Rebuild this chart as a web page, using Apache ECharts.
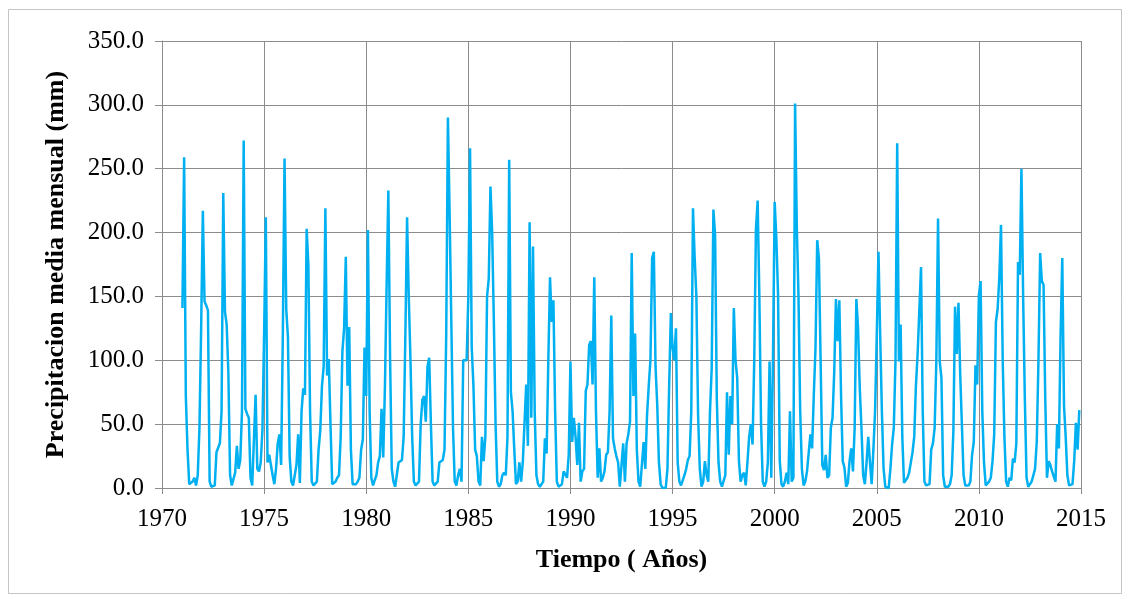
<!DOCTYPE html>
<html><head><meta charset="utf-8">
<script src="https://cdn.jsdelivr.net/npm/echarts@6/dist/echarts.min.js"></script>
<style>html,body{margin:0;padding:0;background:#fff}#c{width:1130px;height:599px}</style>
</head><body><div id="c"></div>
<script>
// Monthly mean precipitation (mm), Jan..Dec of each year
const p1971 = [141, 259, 72, 30, 3, 2, 5, 8, 2, 10, 47, 125];
const p1972 = [217, 146, 143, 139, 5, 1, 0, 2, 28, 28, 35, 60];
const p1973 = [231, 138, 128, 90, 10, 2, 3, 12, 33, 15, 22, 60];
const p1974 = [272, 62, 58, 55, 8, 2, 1, 73, 15, 13, 20, 45];
const p1975 = [120, 212, 20, 26, 18, 10, 3, 15, 35, 42, 18, 120];
const p1976 = [258, 140, 118, 25, 5, 2, 1, 18, 42, 4, 60, 78];
const p1977 = [73, 203, 175, 60, 5, 2, 2, 5, 30, 45, 80, 95];
const p1978 = [219, 88, 101, 50, 3, 2, 5, 8, 10, 40, 107, 125];
const p1979 = [181, 80, 126, 30, 3, 2, 3, 5, 8, 30, 38, 110];
const p1980 = [72, 202, 60, 8, 2, 1, 10, 20, 25, 62, 24, 80];
const p1981 = [160, 233, 104, 15, 5, 1, 0, 20, 20, 22, 40, 120];
const p1982 = [212, 150, 100, 40, 5, 2, 1, 5, 50, 69, 72, 52];
const p1983 = [95, 102, 50, 5, 2, 2, 5, 20, 20, 22, 30, 120];
const p1984 = [290, 215, 130, 47, 5, 2, 10, 15, 5, 100, 100, 100];
const p1985 = [150, 266, 110, 80, 30, 25, 5, 2, 40, 21, 40, 150];
const p1986 = [164, 236, 200, 130, 50, 5, 1, 3, 10, 12, 10, 40];
const p1987 = [257, 75, 60, 30, 3, 5, 20, 5, 20, 20, 81, 33];
const p1988 = [208, 55, 189, 60, 10, 3, 1, 2, 5, 39, 27, 100];
const p1989 = [165, 130, 147, 60, 5, 1, 1, 3, 13, 14, 8, 26];
const p1990 = [99, 36, 55, 40, 18, 51, 5, 13, 15, 76, 81, 112];
const p1991 = [115, 81, 165, 60, 8, 31, 5, 8, 13, 26, 28, 60];
const p1992 = [135, 39, 31, 25, 20, 1, 2, 35, 5, 35, 42, 52];
const p1993 = [184, 72, 121, 30, 5, 1, 2, 36, 15, 57, 80, 100];
const p1994 = [180, 185, 95, 65, 20, 3, 0, 0, 0, 15, 80, 137];
const p1995 = [110, 100, 125, 20, 5, 2, 3, 10, 15, 22, 25, 60];
const p1996 = [219, 180, 150, 57, 15, 1, 5, 21, 10, 5, 60, 94];
const p1997 = [218, 198, 70, 20, 5, 1, 0, 10, 75, 26, 72, 50];
const p1998 = [141, 100, 86, 21, 5, 10, 12, 2, 20, 40, 50, 34];
const p1999 = [100, 203, 225, 150, 50, 5, 1, 5, 20, 99, 8, 100];
const p2000 = [224, 195, 151, 21, 3, 1, 5, 12, 3, 60, 5, 8];
const p2001 = [301, 205, 150, 60, 15, 2, 5, 13, 14, 42, 31, 73];
const p2002 = [110, 194, 180, 100, 18, 14, 26, 8, 10, 47, 55, 91];
const p2003 = [148, 115, 147, 73, 21, 16, 1, 4, 21, 31, 13, 47];
const p2004 = [148, 125, 78, 47, 10, 3, 20, 40, 20, 3, 30, 60];
const p2005 = [120, 185, 120, 60, 15, 1, 0, 0, 15, 34, 47, 100];
const p2006 = [270, 99, 128, 40, 4, 3, 8, 12, 20, 28, 40, 80];
const p2007 = [105, 105, 173, 60, 5, 2, 1, 3, 30, 35, 47, 100];
const p2008 = [211, 99, 86, 10, 1, 0, 1, 3, 10, 44, 142, 105];
const p2009 = [145, 90, 50, 10, 2, 1, 2, 5, 26, 36, 96, 81];
const p2010 = [151, 162, 60, 20, 2, 1, 5, 8, 21, 42, 130, 140];
const p2011 = [165, 206, 100, 40, 5, 1, 8, 6, 23, 20, 35, 177];
const p2012 = [167, 250, 150, 70, 8, 1, 1, 5, 10, 15, 36, 100];
const p2013 = [184, 162, 159, 70, 8, 21, 18, 13, 12, 5, 50, 31];
const p2014 = [120, 180, 65, 40, 10, 2, 1, 3, 21, 51, 30, 61];

const startYear = 1971;
const yearly = [p1971,p1972,p1973,p1974,p1975,p1976,p1977,p1978,p1979,p1980,
  p1981,p1982,p1983,p1984,p1985,p1986,p1987,p1988,p1989,p1990,
  p1991,p1992,p1993,p1994,p1995,p1996,p1997,p1998,p1999,p2000,
  p2001,p2002,p2003,p2004,p2005,p2006,p2007,p2008,p2009,p2010,
  p2011,p2012,p2013,p2014];

const xTickLabels = [1970, 1975, 1980, 1985, 1990, 1995, 2000, 2005, 2010, 2015];
const yTickLabels = [0, 50, 100, 150, 200, 250, 300, 350];
const xTitle = 'Tiempo ( Años)';
const yTitle = 'Precipitacion media mensual (mm)';

const series = [];
yearly.forEach((arr, yi) => arr.forEach((v, mi) => series.push([startYear + yi + mi / 12, v])));

const FONT = 'Liberation Serif';
const GRID = '#8c8c8c';
const chart = echarts.init(document.getElementById('c'), null, {renderer: 'canvas'});
chart.setOption({
  animation: false,
  backgroundColor: '#ffffff',
  graphic: [{type: 'rect', shape: {x: 8.5, y: 9.5, width: 1113, height: 584},
    style: {fill: 'none', stroke: '#c4c4c4', lineWidth: 1}, silent: true}],
  grid: {left: 162, right: 49, top: 41, bottom: 111, containLabel: false},
  xAxis: {
    type: 'value', min: xTickLabels[0], max: xTickLabels[xTickLabels.length - 1], interval: 5,
    axisLine: {show: true, lineStyle: {color: GRID, width: 1}},
    axisTick: {show: true, length: 6, lineStyle: {color: GRID}},
    splitLine: {show: true, lineStyle: {color: GRID, width: 1}},
    axisLabel: {fontFamily: FONT, fontSize: 25, color: '#000', margin: 19, formatter: v => String(v)},
    name: xTitle, nameLocation: 'middle', nameGap: 59,
    nameTextStyle: {fontFamily: FONT, fontWeight: 'bold', fontSize: 26, color: '#000'}
  },
  yAxis: {
    type: 'value', min: yTickLabels[0], max: yTickLabels[yTickLabels.length - 1], interval: 50,
    axisLine: {show: true, lineStyle: {color: GRID, width: 1}},
    axisTick: {show: true, length: 7, lineStyle: {color: GRID}},
    splitLine: {show: true, lineStyle: {color: GRID, width: 1}},
    axisLabel: {fontFamily: FONT, fontSize: 25, color: '#000', margin: 18, formatter: v => v.toFixed(1)},
    name: yTitle, nameLocation: 'middle', nameGap: 93, nameRotate: 90,
    nameTextStyle: {fontFamily: FONT, fontWeight: 'bold', fontSize: 26, color: '#000'}
  },
  series: [{
    type: 'line', data: series, showSymbol: false, symbol: 'none',
    lineStyle: {color: '#00B0F0', width: 2.5}, itemStyle: {color: '#00B0F0'}
  }]
});
</script></body></html>
